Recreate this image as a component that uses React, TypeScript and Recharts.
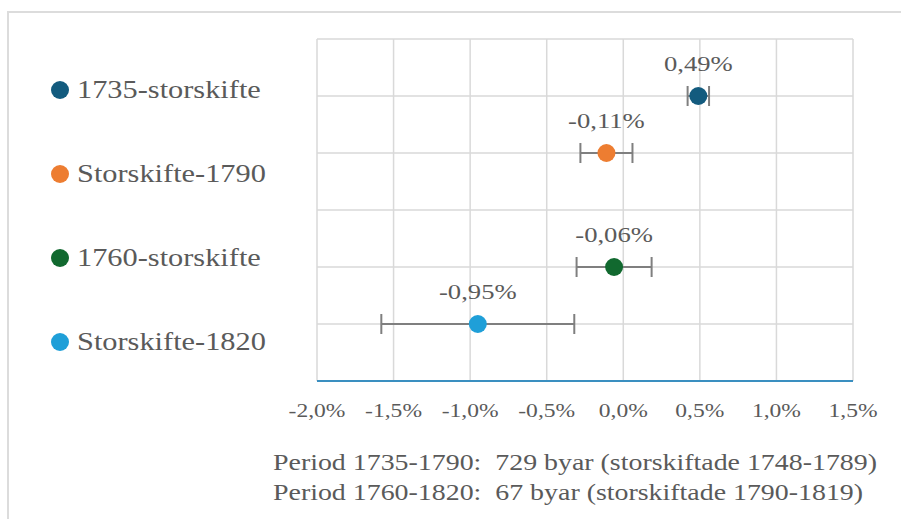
import React from 'react';
import { ScatterChart, Scatter, XAxis, YAxis, CartesianGrid, ErrorBar } from 'recharts';

// ---- data ----
const SERIES_NAMES = ['1735-storskifte', 'Storskifte-1790', '1760-storskifte', 'Storskifte-1820'];
const EFFECTS = [0.49, -0.11, -0.06, -0.95];
const ERR_LOW = [0.07, 0.17, 0.245, 0.63];
const ERR_HIGH = [0.07, 0.17, 0.245, 0.63];
const ROWS = [5, 4, 2, 1];
const X_TICKS = [-2, -1.5, -1, -0.5, 0, 0.5, 1, 1.5];
const Y_TICKS = [0, 1, 2, 3, 4, 5, 6];
const NOTES = [
  'Period 1735-1790:  729 byar (storskiftade 1748-1789)',
  'Period 1760-1820:  67 byar (storskiftade 1790-1819)',
];

// ---- styles ----
const COLORS = ['#135B7E', '#ED7D31', '#11692F', '#1F9FD8'];
const FONT = '"Liberation Serif", "Times New Roman", serif';
const TEXT = '#5A5A5A';
const STRETCH = 1.24;

const fmtTick = (v: number) => `${v.toFixed(1).replace('.', ',')}%`;
const fmtLabel = (v: number) => `${v.toFixed(2).replace('.', ',')}%`;

const seriesData = SERIES_NAMES.map((name, i) => ({
  name,
  color: COLORS[i],
  data: [{ x: EFFECTS[i], y: ROWS[i], err: [ERR_LOW[i], ERR_HIGH[i]] }],
}));

const XTick = (props: any) => {
  const { x, y, payload } = props;
  return (
    <text
      transform={`translate(${x} ${y + 28}) scale(${STRETCH} 1)`}
      textAnchor="middle"
      fontFamily={FONT}
      fontSize={19}
      fill={TEXT}
    >
      {fmtTick(payload.value)}
    </text>
  );
};

const makeShape = (color: string) => (props: any) => {
  const { cx, cy, payload } = props;
  return (
    <g>
      <circle cx={cx} cy={cy} r={9} fill={color} />
      <text
        transform={`translate(${cx} ${cy - 25}) scale(${STRETCH} 1)`}
        textAnchor="middle"
        fontFamily={FONT}
        fontSize={21.5}
        fill={TEXT}
      >
        {fmtLabel(payload.x)}
      </text>
    </g>
  );
};

export default function App() {
  return (
    <div style={{ position: 'absolute', left: 0, top: 0, width: 901, height: 519, background: '#fff', overflow: 'hidden' }}>
      <div
        style={{
          position: 'absolute',
          left: 7,
          top: 11,
          width: 920,
          height: 540,
          borderTop: '2px solid #DCDCDC',
          borderLeft: '2px solid #DCDCDC',
        }}
      />
      <div style={{ position: 'absolute', left: 0, top: 0 }}>
        <ScatterChart width={901} height={519} margin={{ top: 39, right: 48, left: 317, bottom: 108 }}>
          <CartesianGrid stroke="#D9D9D9" strokeWidth={1.5} />
          <XAxis
            type="number"
            dataKey="x"
            domain={[-2, 1.5]}
            ticks={X_TICKS}
            interval={0}
            height={30}
            tickLine={false}
            axisLine={{ stroke: '#3A8FC0', strokeWidth: 2 }}
            tick={<XTick />}
          />
          <YAxis type="number" dataKey="y" domain={[0, 6]} ticks={Y_TICKS} hide />
          {seriesData.map((s) => (
            <Scatter
              key={s.name}
              name={s.name}
              data={s.data}
              fill={s.color}
              isAnimationActive={false}
              shape={makeShape(s.color)}
            >
              <ErrorBar dataKey="err" direction="x" width={10} strokeWidth={2} stroke="#7F7F7F" />
            </Scatter>
          ))}
        </ScatterChart>
      </div>
      <svg
        width={901}
        height={519}
        style={{ position: 'absolute', left: 0, top: 0, pointerEvents: 'none' }}
      >
        {seriesData.map((s, i) => (
          <g key={s.name}>
            <circle cx={60} cy={90 + i * 84} r={9} fill={s.color} />
            <text
              transform={`translate(77 ${98 + i * 84}) scale(${STRETCH} 1)`}
              fontFamily={FONT}
              fontSize={24.5}
              fill={TEXT}
            >
              {s.name}
            </text>
          </g>
        ))}
        {NOTES.map((t, i) => (
          <text
            key={t}
            transform={`translate(273 ${470 + i * 30}) scale(${STRETCH} 1)`}
            fontFamily={FONT}
            fontSize={22.5}
            fill={TEXT}
            style={{ whiteSpace: 'pre' }}
          >
            {t}
          </text>
        ))}
      </svg>
    </div>
  );
}
